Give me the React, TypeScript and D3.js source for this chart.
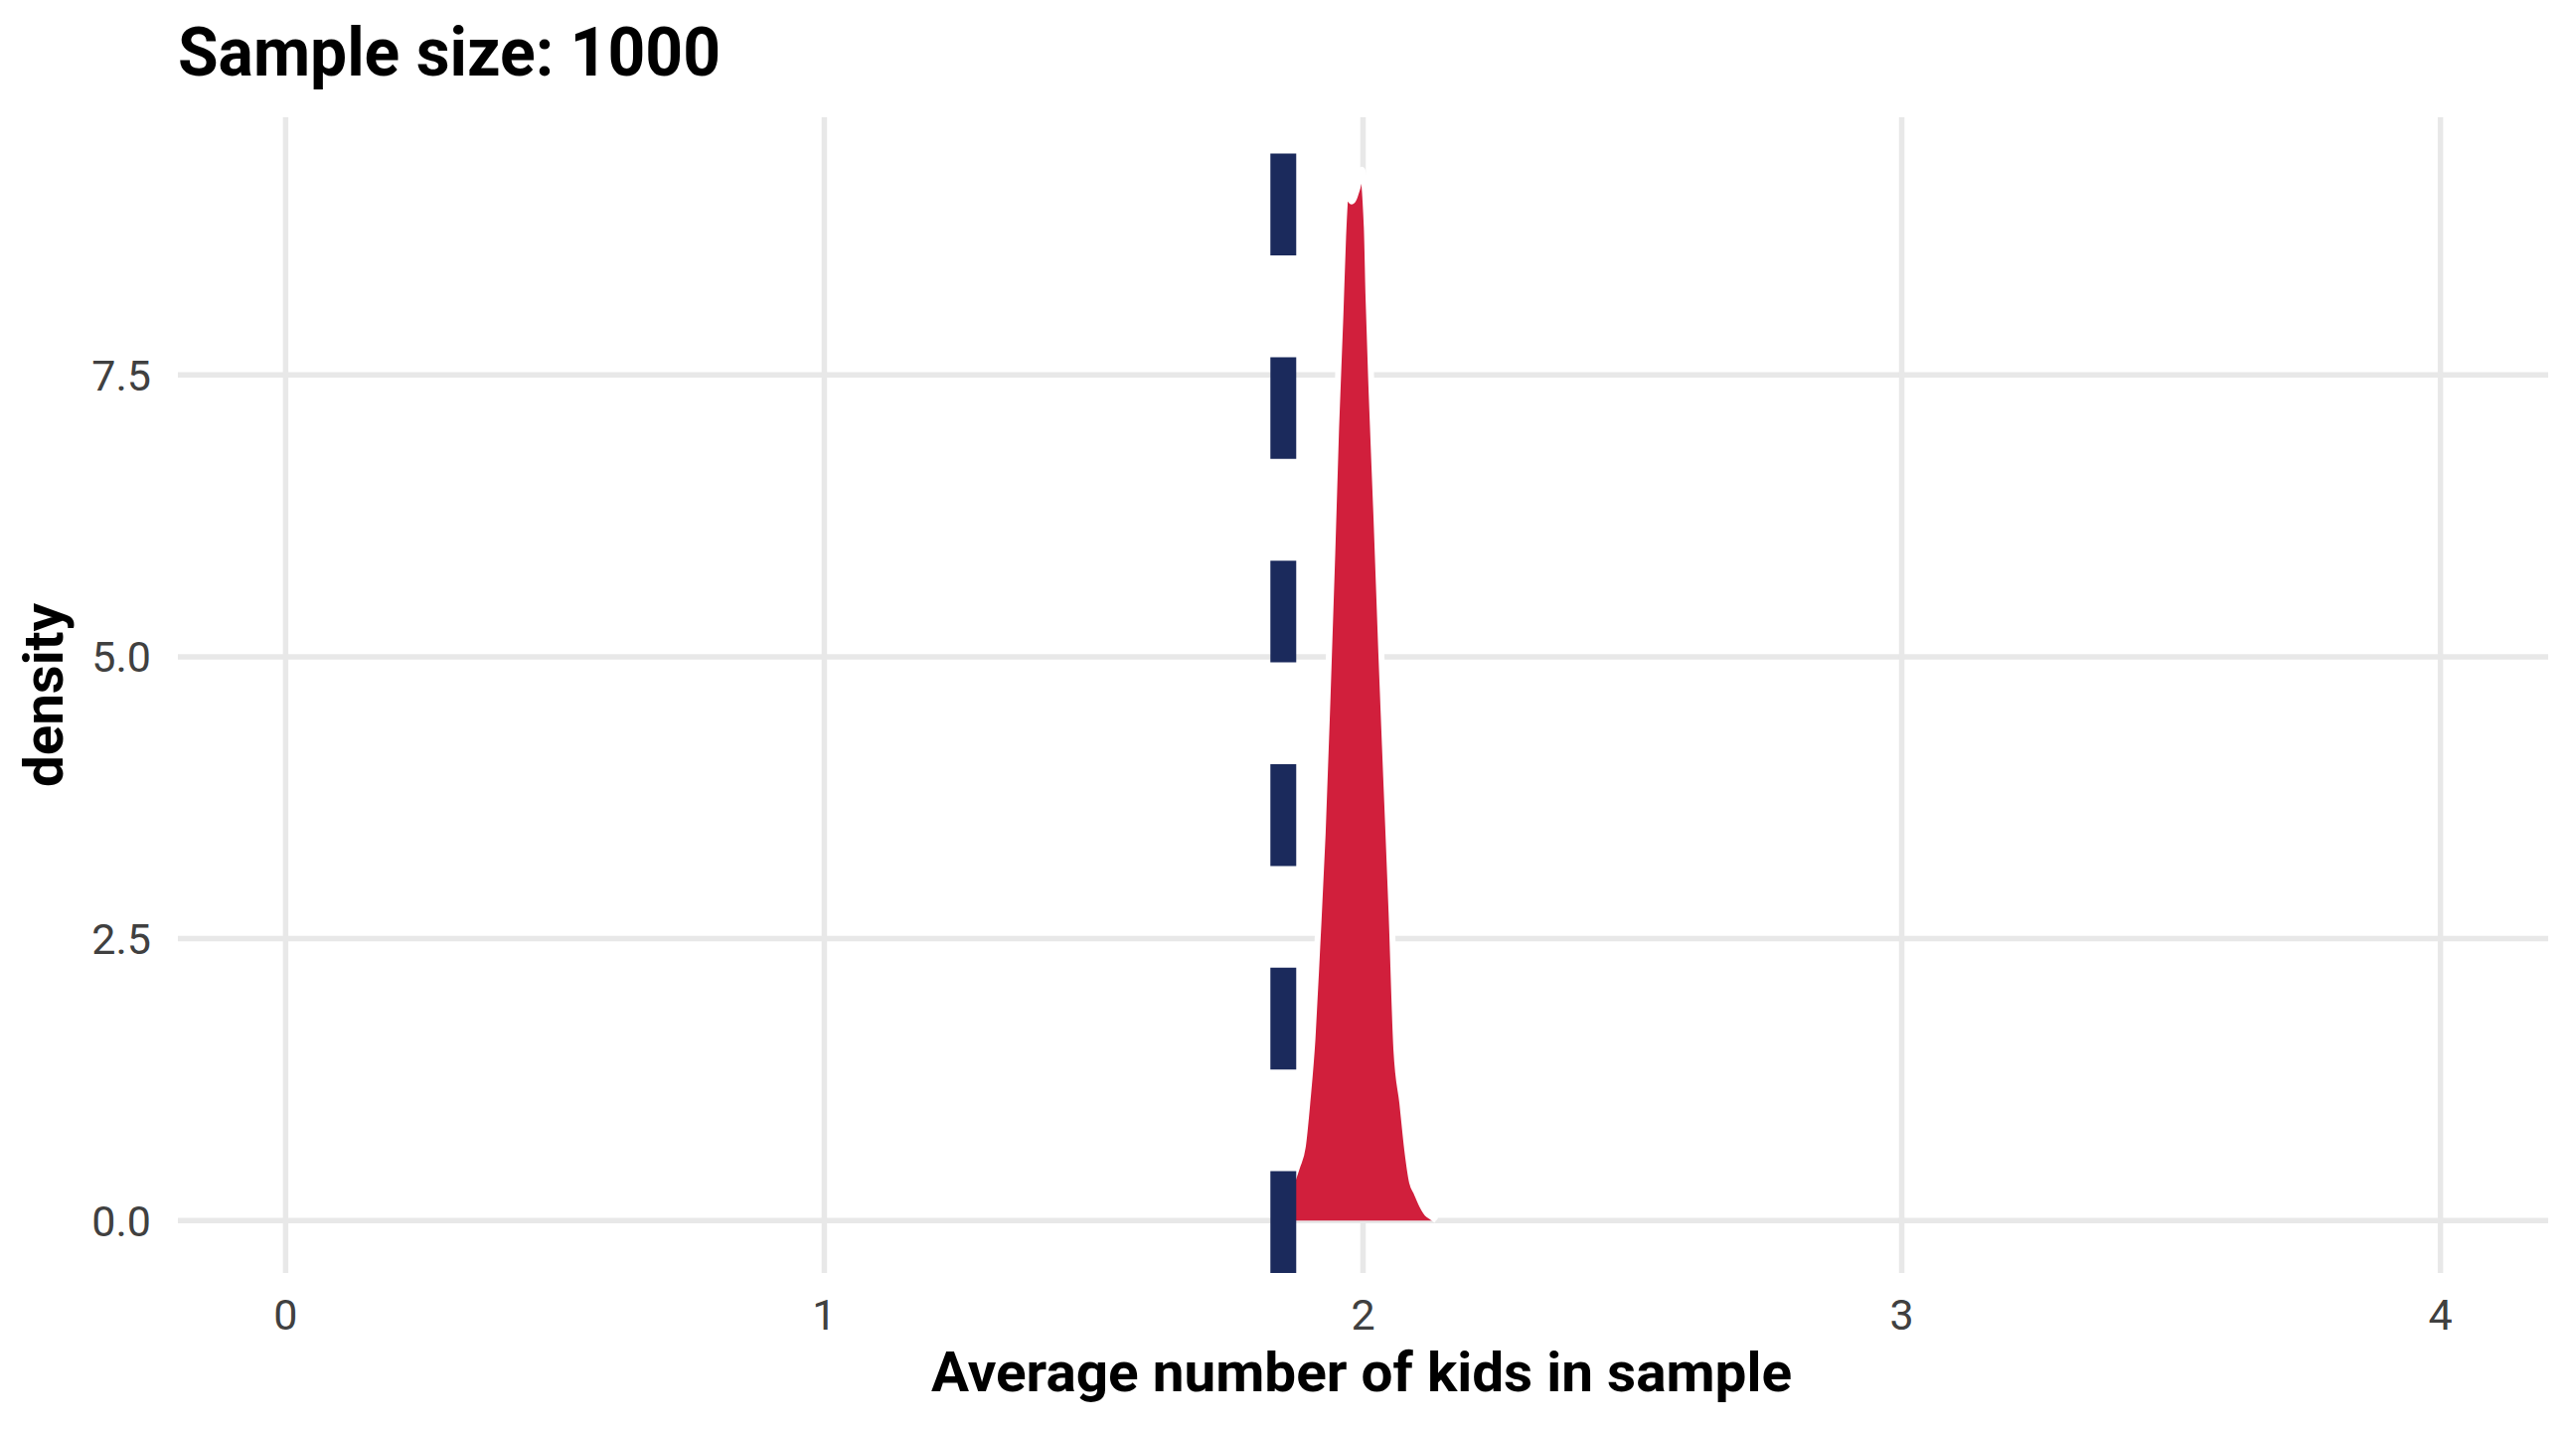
import React from "react";
import * as d3 from "d3";

const W = 2592;
const H = 1440;

// Tick values
const xTicks = [0, 1, 2, 3, 4];
const yTicks = [0, 2.5, 5, 7.5];
const yTickLabels = ["0.0", "2.5", "5.0", "7.5"];

// Density curve
const densityX = [
  1.845, 1.864, 1.871, 1.878, 1.888, 1.897, 1.906, 1.915, 1.925, 1.934, 1.943,
  1.95, 1.958, 1.963, 1.969, 1.979, 1.989, 1.998, 2.007, 2.01, 2.016, 2.025,
  2.034, 2.043, 2.053, 2.062, 2.073, 2.082, 2.091, 2.099, 2.11, 2.119, 2.128,
  2.136,
];
const densityY = [
  0.12, 0.28, 0.38, 0.48, 0.65, 1.07, 1.6, 2.43, 3.43, 4.63, 5.93, 7.03, 8.03,
  8.73, 9.15, 9.04, 9.15, 9.32, 8.81, 8.22, 7.34, 6.23, 5.03, 3.93, 2.73, 1.51,
  1.04, 0.63, 0.34, 0.25, 0.13, 0.06, 0.03, 0.0,
];

// Reference (vertical dashed) line
const meanValue = [1.852];

const title = "Sample size: 1000";
const xTitle = "Average number of kids in sample";
const yTitle = "density";

const xLimits = [0, 4];

export default function App() {
  const panel = { left: 179, right: 2564, top: 118, bottom: 1281 };
  const xr = xLimits[1] - xLimits[0];
  const x = d3
    .scaleLinear()
    .domain([xLimits[0] - 0.05 * xr, xLimits[1] + 0.05 * xr])
    .range([panel.left, panel.right]);
  const yMax = d3.max(densityY) as number;
  const y = d3
    .scaleLinear()
    .domain([-0.05 * yMax, yMax * 1.05])
    .range([panel.bottom, panel.top]);

  const pts = densityX.map((v, i) => ({ x: v, d: densityY[i] }));
  const area = d3
    .area<{ x: number; d: number }>()
    .x((p) => x(p.x))
    .y0(y(0))
    .y1((p) => y(p.d))
    .curve(d3.curveMonotoneX);
  const line = d3
    .line<{ x: number; d: number }>()
    .x((p) => x(p.x))
    .y((p) => y(p.d))
    .curve(d3.curveMonotoneX);

  const grid = "#e8e8e8";
  const gw = 5.5;
  const tickFont = "Roboto, 'Open Sans', sans-serif";

  return (
    <svg
      width={W}
      height={H}
      viewBox={`0 0 ${W} ${H}`}
      style={{ position: "absolute", left: 0, top: 0, background: "#fff" }}
    >
      <rect x={0} y={0} width={W} height={H} fill="#ffffff" />
      {/* gridlines */}
      {yTicks.map((t) => (
        <line
          key={"gy" + t}
          x1={panel.left}
          x2={panel.right}
          y1={y(t)}
          y2={y(t)}
          stroke={grid}
          strokeWidth={gw}
        />
      ))}
      {xTicks.map((t) => (
        <line
          key={"gx" + t}
          x1={x(t)}
          x2={x(t)}
          y1={panel.top}
          y2={panel.bottom}
          stroke={grid}
          strokeWidth={gw}
        />
      ))}
      {/* density */}
      <path d={area(pts) || ""} fill="#d11f3c" stroke="none" />
      <path
        d={line(pts) || ""}
        fill="none"
        stroke="#ffffff"
        strokeWidth={6}
        strokeLinejoin="round"
      />
      {/* vertical dashed line */}
      {meanValue.map((m) => (
        <line
          key={"v" + m}
          x1={x(m)}
          x2={x(m)}
          y1={panel.bottom}
          y2={panel.top}
          stroke="#1b2a5c"
          strokeWidth={26}
          strokeDasharray="102.4 102.4"
        />
      ))}
      {/* x tick labels */}
      {xTicks.map((t) => (
        <text
          key={"xl" + t}
          x={x(t)}
          y={1338}
          textAnchor="middle"
          fontFamily={tickFont}
          fontSize={43}
          fill="#404040"
        >
          {String(t)}
        </text>
      ))}
      {/* y tick labels */}
      {yTicks.map((t, i) => (
        <text
          key={"yl" + t}
          x={152}
          y={y(t) + 15.5}
          textAnchor="end"
          fontFamily={tickFont}
          fontSize={43}
          fill="#404040"
        >
          {yTickLabels[i]}
        </text>
      ))}
      {/* titles */}
      <text
        x={179}
        y={76}
        fontFamily="Roboto, sans-serif"
        fontWeight={700}
        fontSize={69}
        fill="#000"
        textLength={546}
        lengthAdjust="spacingAndGlyphs"
      >
        {title}
      </text>
      <text
        x={1370}
        y={1400}
        textAnchor="middle"
        fontFamily="Roboto, sans-serif"
        fontWeight={700}
        fontSize={55}
        fill="#000"
        textLength={866}
        lengthAdjust="spacingAndGlyphs"
      >
        {xTitle}
      </text>
      <text
        transform={`translate(63, ${(panel.top + panel.bottom) / 2}) rotate(-90)`}
        textAnchor="middle"
        fontFamily="Roboto, sans-serif"
        fontWeight={700}
        fontSize={55}
        fill="#000"
        textLength={185}
        lengthAdjust="spacingAndGlyphs"
      >
        {yTitle}
      </text>
    </svg>
  );
}
